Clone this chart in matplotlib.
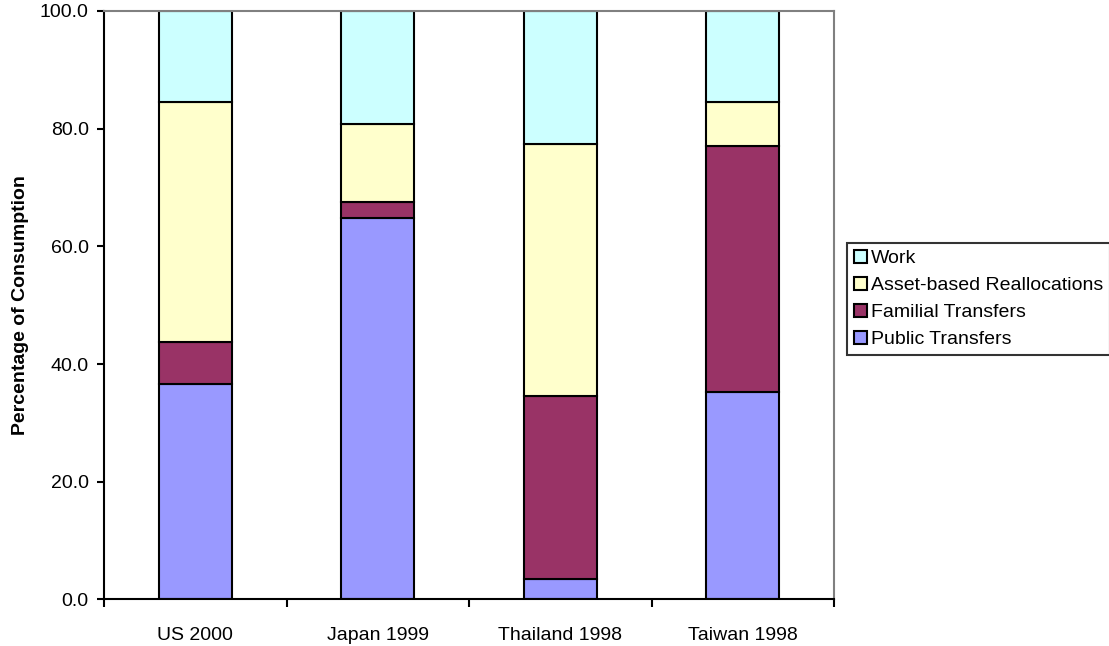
import matplotlib
matplotlib.use("Agg")
import matplotlib.pyplot as plt
import numpy as np

plt.rcParams['font.family'] = ['Liberation Sans', 'DejaVu Sans']

categories = ["US 2000", "Japan 1999", "Thailand 1998", "Taiwan 1998"]
public_transfers = [36.7, 64.8, 3.4, 35.3]
familial_transfers = [7.1, 2.8, 31.2, 41.8]
asset_reallocations = [40.8, 13.2, 42.75, 7.5]
work = [15.4, 19.2, 22.65, 15.4]

series = [
    ("Public Transfers", public_transfers, "#9999ff"),
    ("Familial Transfers", familial_transfers, "#993366"),
    ("Asset-based Reallocations", asset_reallocations, "#ffffcc"),
    ("Work", work, "#ccffff"),
]

FS = 14

fig = plt.figure(figsize=(11.09, 6.46), dpi=100)
ax = fig.add_axes([0.0938, 0.072, 0.6583, 0.911])

x = np.arange(len(categories))
bottom = np.zeros(len(categories))
handles = []
for name, vals, color in series:
    b = ax.bar(x, vals, width=0.4, bottom=bottom, color=color,
               edgecolor="black", linewidth=1.5, label=name)
    handles.append(b)
    bottom += np.array(vals)

ax.set_xlim(-0.5, len(categories) - 0.5)
ax.set_ylim(0, 100)
ax.set_yticks(np.arange(0, 101, 20))
ax.set_yticklabels([f"{v:.1f}" for v in np.arange(0, 101, 20)], fontsize=FS)
ax.set_xticks(np.arange(-0.5, len(categories), 1), minor=False)
ax.set_xticklabels([])
ax.set_xticks(x, minor=True)
ax.set_xticklabels(categories, minor=True, fontsize=FS)
ax.tick_params(axis='x', which='minor', length=0, pad=20)
ax.tick_params(axis='x', which='major', length=6, width=1.5, direction='out')
ax.tick_params(axis='y', length=5, width=1.5, direction='out', pad=6)

for side in ("top", "right"):
    ax.spines[side].set_color("#808080")
    ax.spines[side].set_linewidth(1.5)
for side in ("left", "bottom"):
    ax.spines[side].set_color("black")
    ax.spines[side].set_linewidth(1.5)

ax.set_ylabel("Percentage of Consumption", fontsize=FS, fontweight="bold", labelpad=8)

leg = fig.legend(handles[::-1], [s[0] for s in series][::-1],
                 loc="upper left", bbox_to_anchor=(0.764, 0.624),
                 fontsize=FS, frameon=True, fancybox=False,
                 handlelength=0.65, handleheight=0.65, handletextpad=0.2,
                 labelspacing=0.5, borderpad=0.35, borderaxespad=0)
leg.get_frame().set_edgecolor("black")
leg.get_frame().set_linewidth(1.5)

fig.savefig("out.png", dpi=100)
